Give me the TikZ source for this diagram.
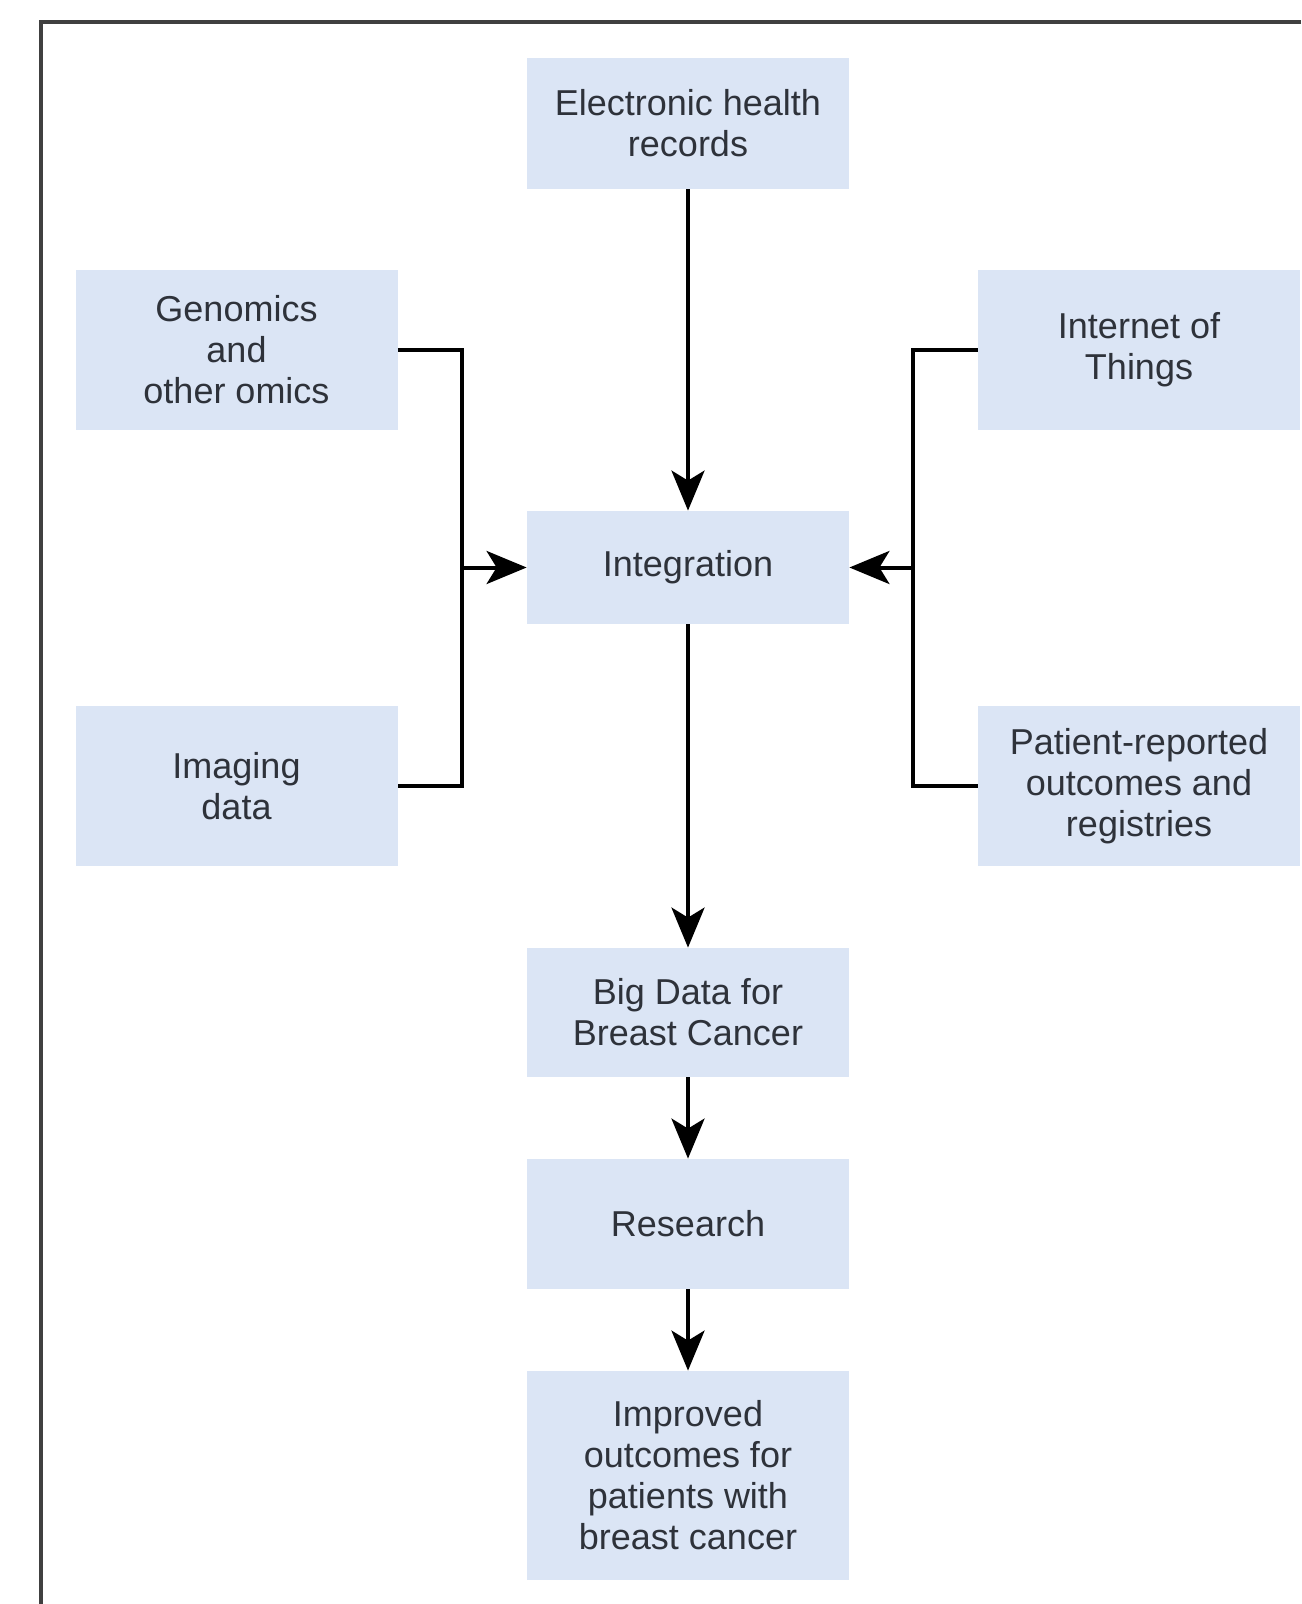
\documentclass[tikz,border=0pt]{standalone}
\usepackage{fontspec}
\setmainfont{Liberation Sans}
\usetikzlibrary{arrows.meta}
\definecolor{boxblue}{RGB}{219,229,245}
\definecolor{textgray}{RGB}{46,50,58}
\tikzset{
  databox/.style={fill=boxblue, text=textgray, align=center, inner sep=0pt,
    minimum width=161pt, font=\fontsize{18pt}{20.5pt}\selectfont},
  link/.style={line width=2pt},
  flow/.style={link, -{Stealth[length=20pt, width=16.5pt, inset=5pt]}},
}
\begin{document}
\begin{tikzpicture}[x=0.5pt,y=-0.5pt]
    \useasboundingbox (0,0) rectangle (1301,1604);
    \draw [line width=2pt, black!75] (1301,22.5) -- (41,22.5) -- (41,1604);
    \node [databox, minimum height=65.5pt] (ehr) at (688,123.5) {Electronic health\\records};
    \node [databox, minimum height=80pt] (gen) at (236.5,350) {Genomics\\and\\other omics};
    \node [databox, minimum height=80pt] (iot) at (1139,350) {Internet of\\Things};
    \node [databox, minimum height=56.5pt] (int) at (688,567.5) {Integration};
    \node [databox, minimum height=80pt] (img) at (236.5,786) {Imaging\\data};
    \node [databox, minimum height=80pt] (pro) at (1139,786) {Patient-reported\\outcomes and\\registries};
    \node [databox, minimum height=64.5pt] (big) at (688,1012.5) {Big Data for\\Breast Cancer};
    \node [databox, minimum height=65pt] (res) at (688,1224) {Research};
    \node [databox, minimum height=104.5pt] (imp) at (688,1475.5) {Improved\\outcomes for\\patients with\\breast cancer};
    \coordinate (jl) at (462,567.5);
    \coordinate (jr) at (913,567.5);
    \draw [link] (gen.east) -| (jl) |- (img.east);
    \draw [link] (iot.west) -| (jr) |- (pro.west);
    \draw [flow] (jl) -- (int);
    \draw [flow] (jr) -- (int);
    \draw [flow] (ehr) -- (int);
    \draw [flow] (int) -- (big);
    \draw [flow] (big) -- (res);
    \draw [flow] (res) -- (imp);
  \end{tikzpicture}
\end{document}
